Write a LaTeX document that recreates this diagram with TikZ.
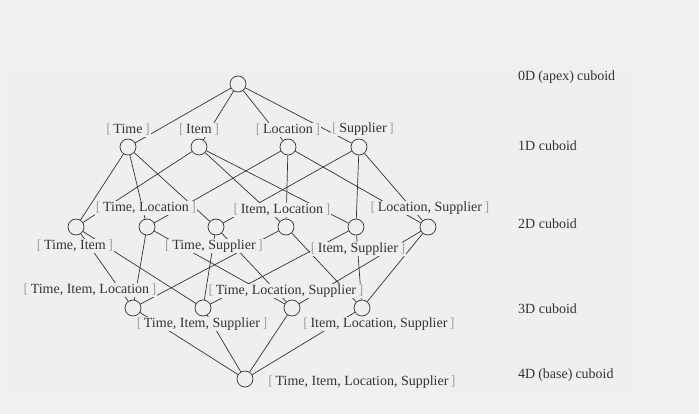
\documentclass[tikz,border=0pt]{standalone}
\usepackage{fontspec}
\setmainfont{Liberation Serif}
\usetikzlibrary{positioning}
\definecolor{pagebg}{RGB}{241,241,241}
\definecolor{panelbg}{RGB}{239,239,239}
\definecolor{ink}{RGB}{51,51,51}
\definecolor{brk}{RGB}{160,160,160}
\newcommand{\dimset}[1]{\textcolor{brk}{[}\hspace{2.5pt}#1\hspace{2.5pt}\textcolor{brk}{]}}

\begin{document}
\begin{tikzpicture}[
    x=1pt, y=-1pt,
    cuboid/.style={draw=ink, fill=panelbg, circle, minimum size=16pt, inner sep=0pt, line width=0.7pt},
    dimlabel/.style={fill=panelbg, inner sep=1pt, text=ink, font=\fontsize{14}{16}\selectfont},
    level/.style={anchor=west, inner sep=0pt, text=ink, font=\fontsize{14}{16}\selectfont},
    link/.style={draw=ink, line width=0.7pt}
]
    % Background
    \fill[pagebg] (0,0) rectangle (699,414);
    \fill[panelbg] (8,66) rectangle (632,395);
    \useasboundingbox (0,0) rectangle (699,414);

    % Cuboids
    \node[cuboid] (apex) at (238,84) {};
    \node[cuboid] (t) at (128,147) {};
    \node[cuboid] (i) at (199,147) {};
    \node[cuboid] (l) at (288,147) {};
    \node[cuboid] (s) at (359,147) {};
    \node[cuboid] (ti) at (76,227) {};
    \node[cuboid] (tl) at (147,227) {};
    \node[cuboid] (ts) at (216,227) {};
    \node[cuboid] (il) at (286,227) {};
    \node[cuboid] (is) at (356,227) {};
    \node[cuboid] (ls) at (428,227) {};
    \node[cuboid] (til) at (133,308) {};
    \node[cuboid] (tis) at (203,308) {};
    \node[cuboid] (tls) at (292,308) {};
    \node[cuboid] (ils) at (362,308) {};
    \node[cuboid] (base) at (245,379) {};

    % Lattice
    \foreach \a/\b in {apex/t, apex/i, apex/l, apex/s,
                       t/ti, t/tl, t/ts, i/ti, i/il, i/is,
                       l/tl, l/il, l/ls, s/ts, s/is, s/ls,
                       ti/til, tl/til, il/til, ti/tis, ts/tis, is/tis,
                       tl/tls, ts/tls, ls/tls, il/ils, is/ils, ls/ils,
                       til/base, tis/base, tls/base, ils/base}
        \draw[link] (\a) -- (\b);

    % Dimension labels
    \node[dimlabel] (tlab) at (128,130) {\dimset{Time}};
    \node[dimlabel] (ilab) at (199,130) {\dimset{Item}};
    \node[dimlabel] (llab) at (288,130) {\dimset{Location}};
    \node[dimlabel] (slab) at (363,129) {\dimset{Supplier}};
    \node[dimlabel] (tllab) at (146,208) {\dimset{Time, Location}};
    \node[dimlabel] (illab) at (282,210) {\dimset{Item, Location}};
    \node[dimlabel] (lslab) at (430,208) {\dimset{Location, Supplier}};
    \node[dimlabel] (tilab) at (75,246) {\dimset{Time, Item}};
    \node[dimlabel] (tslab) at (214,246) {\dimset{Time, Supplier}};
    \node[dimlabel] (islab) at (358,249) {\dimset{Item, Supplier}};
    \node[dimlabel] (tillab) at (90,290) {\dimset{Time, Item, Location}};
    \node[dimlabel] (tlslab) at (286,291) {\dimset{Time, Location, Supplier}};
    \node[dimlabel] (tislab) at (202,324) {\dimset{Time, Item, Supplier}};
    \node[dimlabel] (ilslab) at (379,324) {\dimset{Item, Location, Supplier}};
    \node[dimlabel] (baselab) at (362,382) {\dimset{Time, Item, Location, Supplier}};

    % Levels
    \node[level] (lv0) at (518,77) {0D\hspace{3pt}(apex)\hspace{3pt}cuboid};
    \node[level] (lv1) at (518,146) {1D cuboid};
    \node[level] (lv2) at (518,224) {2D cuboid};
    \node[level] (lv3) at (518,309) {3D cuboid};
    \node[level] (lv4) at (518,375) {4D\hspace{3pt}(base)\hspace{3pt}cuboid};
\end{tikzpicture}
\end{document}
